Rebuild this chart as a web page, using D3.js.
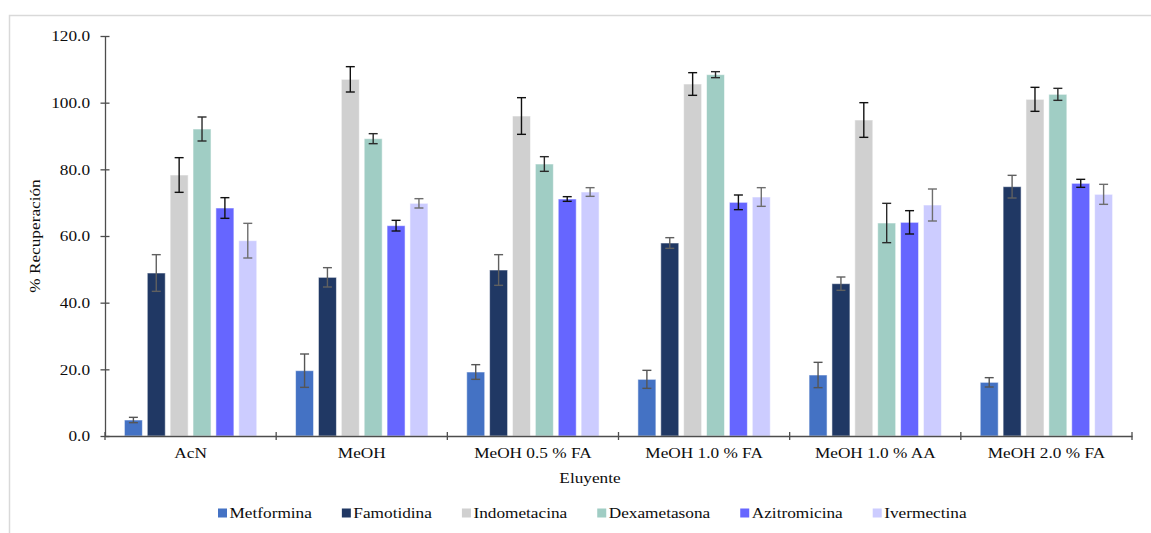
<!DOCTYPE html>
<html>
<head>
<meta charset="utf-8">
<script src="https://cdn.jsdelivr.net/npm/d3@7"></script>
<style>
  html, body { margin: 0; padding: 0; background: #fff; }
  svg { display: block; }
  text { font-family: "Liberation Serif", "Times New Roman", serif; fill: #0d0d0d; }
</style>
</head>
<body>
<svg id="chart" width="1151" height="533"></svg>
<script>
// Eluents (x categories) and compounds (series)
const categories = ["AcN", "MeOH", "MeOH 0.5 % FA", "MeOH 1.0 % FA", "MeOH 1.0 % AA", "MeOH 2.0 % FA"];
const seriesNames = ["Metformina", "Famotidina", "Indometacina", "Dexametasona", "Azitromicina", "Ivermectina"];

// % recovery per eluent, and the error (±) of each
const metformina      = [4.8, 19.6, 19.2, 17.0, 18.3, 16.1];
const metforminaErr   = [0.8, 5.0, 2.2, 2.7, 3.8, 1.4];
const famotidina      = [48.9, 47.6, 49.8, 57.9, 45.7, 74.8];
const famotidinaErr   = [5.5, 2.9, 4.6, 1.6, 2.0, 3.4];
const indometacina    = [78.3, 107.0, 96.0, 105.6, 94.8, 101.0];
const indometacinaErr = [5.2, 3.8, 5.5, 3.4, 5.2, 3.6];
const dexametasona    = [92.1, 89.2, 81.6, 108.4, 63.9, 102.5];
const dexametasonaErr = [3.6, 1.5, 2.2, 0.9, 5.9, 1.8];
const azitromicina    = [68.4, 63.1, 71.1, 70.1, 64.1, 75.8];
const azitromicinaErr = [3.1, 1.6, 0.7, 2.2, 3.5, 1.2];
const ivermectina     = [58.6, 69.8, 73.2, 71.7, 69.3, 72.5];
const ivermectinaErr  = [5.2, 1.4, 1.3, 2.8, 4.8, 3.0];

const yTicks = [0, 20, 40, 60, 80, 100, 120];

const seriesValues = [metformina, famotidina, indometacina, dexametasona, azitromicina, ivermectina];
const seriesErrors = [metforminaErr, famotidinaErr, indometacinaErr, dexametasonaErr, azitromicinaErr, ivermectinaErr];
const colors = ["#4472C4", "#203864", "#D0D0D0", "#A0CDC4", "#6666FF", "#CCCCFF"];
const errColors = ["#555555", "#606060", "#111111", "#2a2a2a", "#111111", "#6e6e6e"];

const svg = d3.select("#chart");
const SX = 1.15; // horizontal stretch of the serif lettering
const plotLeft = 105, plotRight = 1132, plotTop = 36, plotBottom = 436;
const textFill = "#0d0d0d";

// light frame around the chart area
svg.append("rect")
  .attr("x", 9.5).attr("y", 15.5)
  .attr("width", 1160).attr("height", 540)
  .attr("fill", "none").attr("stroke", "#d9d9d9").attr("stroke-width", 1.5);

const x0 = d3.scaleBand().domain(categories).range([plotLeft, plotRight])
  .paddingInner(0.2266).paddingOuter(0.1133);
const x1 = d3.scaleBand().domain(seriesNames).range([0, x0.bandwidth()])
  .paddingInner(0.2133).paddingOuter(0);
const y = d3.scaleLinear().domain([0, 120]).range([plotBottom, plotTop]);

// flatten into records
const records = [];
categories.forEach((c, ci) => {
  seriesNames.forEach((s, si) => {
    records.push({ cat: c, series: s, si, value: seriesValues[si][ci], err: seriesErrors[si][ci] });
  });
});

// bars
svg.append("g").selectAll("rect").data(records).join("rect")
  .attr("x", d => x0(d.cat) + x1(d.series))
  .attr("y", d => y(d.value))
  .attr("width", x1.bandwidth())
  .attr("height", d => y(0) - y(d.value))
  .attr("fill", d => colors[d.si])
  .attr("stroke", "#ffffff").attr("stroke-opacity", 0.55).attr("stroke-width", 1);

// error bars
const capHalf = 4.5;
const cx = d => x0(d.cat) + x1(d.series) + x1.bandwidth() / 2;
const eb = svg.append("g").selectAll("g").data(records).join("g")
  .attr("stroke", d => errColors[d.si]).attr("stroke-width", 1.4);
eb.append("line")
  .attr("x1", cx).attr("x2", cx)
  .attr("y1", d => y(d.value + d.err))
  .attr("y2", d => y(d.value - d.err));
[1, -1].forEach(sign => {
  eb.append("line")
    .attr("x1", d => cx(d) - capHalf)
    .attr("x2", d => cx(d) + capHalf)
    .attr("y1", d => y(d.value + sign * d.err))
    .attr("y2", d => y(d.value + sign * d.err));
});

// y axis
const yAxis = svg.append("g").attr("transform", `translate(${plotLeft},0)`)
  .call(d3.axisLeft(y).tickValues(yTicks).tickFormat(d3.format(".1f")).tickSize(0).tickPadding(0));
yAxis.select(".domain").attr("stroke", "#4d4d4d").attr("stroke-width", 1.3);
yAxis.selectAll(".tick").append("line")
  .attr("x1", -4.5).attr("x2", 4.5).attr("stroke", "#4d4d4d").attr("stroke-width", 1.3);
yAxis.selectAll(".tick text")
  .attr("x", -15 / SX).attr("dy", "0.33em")
  .attr("transform", `scale(${SX},1)`)
  .style("font-size", "15px").style("font-family", "Liberation Serif").style("fill", textFill);

// x axis with boundary ticks between groups
const xAxis = svg.append("g").attr("transform", `translate(0,${plotBottom})`)
  .call(d3.axisBottom(x0).tickSize(0).tickPadding(0));
xAxis.select(".domain").attr("stroke", "#4d4d4d").attr("stroke-width", 1.3);
xAxis.selectAll(".tick text")
  .attr("y", 22).attr("dy", 0)
  .attr("transform", `scale(${SX},1)`)
  .style("font-size", "15px").style("font-family", "Liberation Serif").style("fill", textFill);
const boundaries = categories.map(c => x0(c) - (x0.step() - x0.bandwidth()) / 2).concat([plotRight]);
xAxis.selectAll(".bound").data(boundaries).join("line")
  .attr("class", "bound")
  .attr("x1", d => d).attr("x2", d => d)
  .attr("y1", -4).attr("y2", 4)
  .attr("stroke", "#4d4d4d").attr("stroke-width", 1.3);

// axis titles
svg.append("text")
  .attr("transform", `translate(40,${(plotTop + plotBottom) / 2}) rotate(-90) scale(${SX},1)`)
  .attr("text-anchor", "middle")
  .style("font-size", "15px")
  .text("% Recuperación");

svg.append("text")
  .attr("transform", `translate(590,483) scale(${SX},1)`)
  .attr("text-anchor", "middle")
  .style("font-size", "15px")
  .text("Eluyente");

// legend
const legend = svg.append("g");
let lx = 218;
seriesNames.forEach((s, i) => {
  legend.append("rect")
    .attr("x", lx).attr("y", 508.5).attr("width", 9).attr("height", 9)
    .attr("fill", colors[i]);
  const t = legend.append("text")
    .attr("transform", `translate(${lx + 11.5},518) scale(${SX},1)`)
    .style("font-size", "15px")
    .text(s);
  const w = t.node().getComputedTextLength() * SX;
  lx += 11.5 + w + 30;
});
</script>
</body>
</html>
